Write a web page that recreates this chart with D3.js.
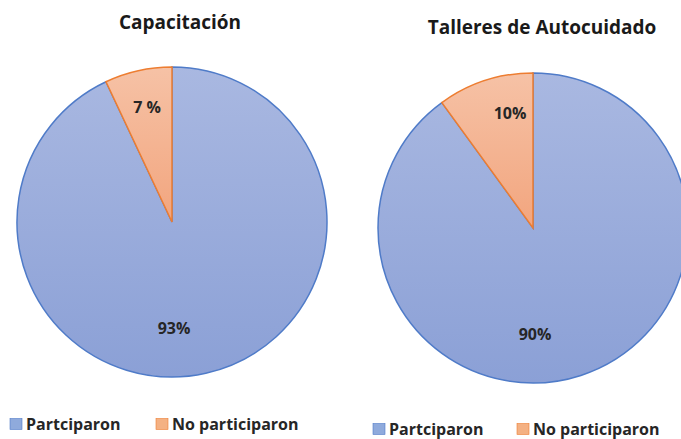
<!DOCTYPE html>
<html>
<head>
<meta charset="utf-8">
<script src="https://d3js.org/d3.v7.min.js"></script>
<style>
body { margin: 0; background: #fff; }
svg { display: block; }
text { font-family: "Open Sans", Lato, sans-serif; font-weight: bold; fill: #262626; }
</style>
</head>
<body>
<svg id="chart"></svg>
<script>
// data
var categories = ["Partciparon", "No participaron"];
var titles = ["Capacitación", "Talleres de Autocuidado"];
var capacitacion = [93, 7];
var talleres = [90, 10];
var labels1 = ["93%", "7 %"];
var labels2 = ["90%", "10%"];

var width = 681, height = 439;
var svg = d3.select("#chart").attr("width", width).attr("height", height);

var defs = svg.append("defs");
function grad(id, top, bottom) {
    var g = defs.append("linearGradient").attr("id", id)
        .attr("x1", 0).attr("y1", 0).attr("x2", 0).attr("y2", 1);
    g.append("stop").attr("offset", "0%").attr("stop-color", top);
    g.append("stop").attr("offset", "100%").attr("stop-color", bottom);
}
grad("gBlue", "#a9b8e1", "#8ba0d6");
grad("gOrange", "#f6c2a6", "#f2a57e");

var fills = ["url(#gBlue)", "url(#gOrange)"];
var strokes = ["#4f7bc8", "#ed7d31"];
var legendFill = ["#8faadc", "#f4b183"];

var pie = d3.pie().sort(null);
var radius = 155;

// label spots as they sit in the original (offset from pie center)
var charts = [
    {title: titles[0], values: capacitacion, labels: labels1, cx: 172, cy: 222, tx: 180, ty: 29,
     lab: [[2, 106], [-25, -115]], lx: 10, ly: 424, gap: 146},
    {title: titles[1], values: talleres, labels: labels2, cx: 533, cy: 228, tx: 542, ty: 34,
     lab: [[2, 106], [-23, -115]], lx: 373, ly: 429, gap: 144}
];

charts.forEach(function(c) {
    var arc = d3.arc().innerRadius(0).outerRadius(radius);
    var g = svg.append("g").attr("transform", "translate(" + c.cx + "," + c.cy + ")");
    var arcs = pie(c.values);

    g.selectAll("path")
        .data(arcs)
        .enter().append("path")
        .attr("d", arc)
        .attr("fill", function(d, i) { return fills[i]; })
        .attr("stroke", function(d, i) { return strokes[i]; })
        .attr("stroke-width", 1.5);

    g.selectAll(".lbl")
        .data(arcs)
        .enter().append("text")
        .attr("class", "lbl")
        .attr("x", function(d, i) { return c.lab[i][0]; })
        .attr("y", function(d, i) { return c.lab[i][1]; })
        .attr("text-anchor", "middle")
        .attr("dy", "0.35em")
        .style("font-size", "16px")
        .text(function(d, i) { return c.labels[i]; });

    svg.append("text")
        .attr("x", c.tx).attr("y", c.ty)
        .attr("text-anchor", "middle")
        .style("font-size", "19px")
        .style("fill", "#1a1a1a")
        .text(c.title);

    var lg = svg.append("g").attr("transform", "translate(" + c.lx + "," + c.ly + ")");
    categories.forEach(function(name, i) {
        var x = i * c.gap;
        lg.append("rect")
            .attr("x", x).attr("y", -5.5)
            .attr("width", 12).attr("height", 11)
            .attr("fill", legendFill[i])
            .attr("stroke", strokes[i]).attr("stroke-width", 0.6);
        lg.append("text")
            .attr("x", x + 16).attr("y", 0)
            .attr("dy", "0.35em")
            .style("font-size", "16px")
            .text(name);
    });
});
</script>
</body>
</html>
